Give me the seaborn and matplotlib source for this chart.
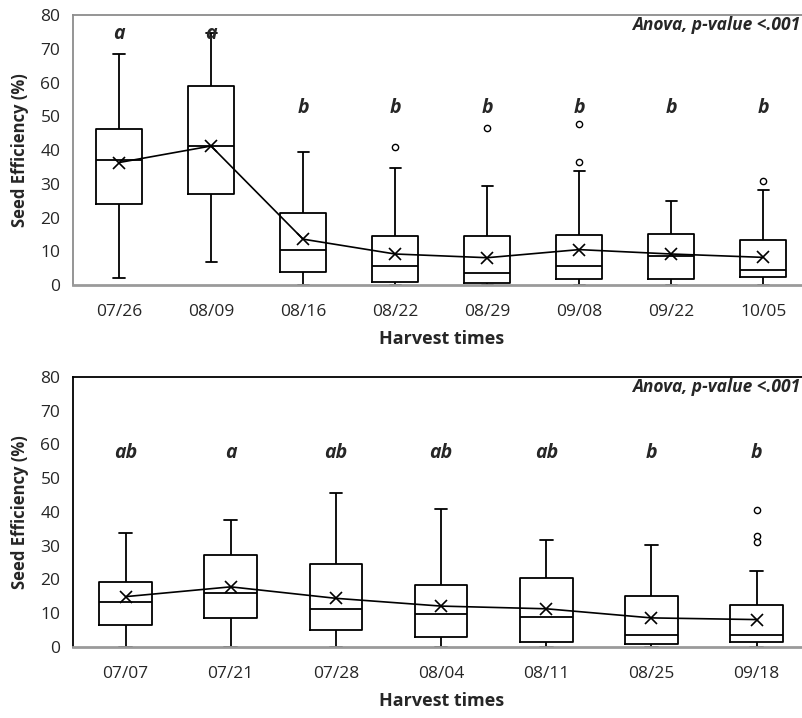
import pandas as pd
import numpy as np
import matplotlib.pyplot as plt
import seaborn as sns

# top panel ---------------------------------------------------------------
top_dates = ['07/26', '08/09', '08/16', '08/22', '08/29', '09/08', '09/22', '10/05']
top_low = [2.0, 6.9, 0.0, 0.0, 0.0, 0.0, 0.0, 0.0]
top_q1 = [24.0, 27.1, 3.8, 1.0, 0.5, 1.9, 1.8, 2.3]
top_med = [37.1, 41.3, 10.3, 5.6, 3.7, 5.7, 8.7, 4.6]
top_q3 = [46.2, 59.1, 21.4, 14.6, 14.5, 14.9, 15.2, 13.4]
top_high = [68.4, 74.7, 39.5, 34.8, 29.4, 33.9, 24.9, 28.3]
top_mean = [36.3, 41.2, 13.6, 9.2, 8.1, 10.5, 9.2, 8.2]
top_out_date = ['08/22', '08/29', '09/08', '09/08', '10/05']
top_out_val = [40.9, 46.4, 47.6, 36.5, 30.8]
top_letters = ['a', 'a', 'b', 'b', 'b', 'b', 'b', 'b']
top_letter_y = [74.5, 74.5, 52.5, 52.5, 52.5, 52.5, 52.5, 52.5]

# bottom panel ------------------------------------------------------------
bot_dates = ['07/07', '07/21', '07/28', '08/04', '08/11', '08/25', '09/18']
bot_low = [0.0, 0.0, 0.0, 0.0, 0.0, 0.0, 0.0]
bot_q1 = [6.4, 8.6, 5.1, 2.9, 1.6, 0.8, 1.4]
bot_med = [13.3, 16.1, 11.3, 9.8, 8.8, 3.6, 3.4]
bot_q3 = [19.3, 27.2, 24.6, 18.4, 20.4, 15.1, 12.3]
bot_high = [33.7, 37.7, 45.6, 41.0, 31.8, 30.2, 22.5]
bot_mean = [14.9, 17.8, 14.4, 12.1, 11.3, 8.6, 8.1]
bot_out_date = ['09/18', '09/18', '09/18']
bot_out_val = [40.7, 32.8, 31.2]
bot_letters = ['ab', 'a', 'ab', 'ab', 'ab', 'b', 'b']
bot_letter_y = [57.5, 57.5, 57.5, 57.5, 57.5, 57.5, 57.5]

sns.set_style('white')
plt.rcParams['font.family'] = ['Open Sans', 'DejaVu Sans']


def draw_panel(ax, dates, low, q1, med, q3, high, mean, out_date, out_val,
               letters, letter_y, frame_color):
    # five-number rows per date, whiskers reach min / max
    rows = []
    for i, d in enumerate(dates):
        for v in (low[i], q1[i], med[i], q3[i], high[i]):
            rows.append({'date': d, 'value': v})
    box_df = pd.DataFrame(rows)

    sns.boxplot(data=box_df, x='date', y='value', order=dates, whis=(0, 100),
                width=0.5, fill=False, color='black', linewidth=1.3,
                showfliers=False, capwidths=0.12, ax=ax)

    out_df = pd.DataFrame({'date': out_date, 'value': out_val})
    sns.stripplot(data=out_df, x='date', y='value', order=dates, jitter=False,
                  color='white', edgecolor='black', linewidth=1, size=4.5, ax=ax)

    mean_df = pd.DataFrame({'date': dates, 'value': mean})
    sns.pointplot(data=mean_df, x='date', y='value', order=dates, color='black',
                  markers='x', linestyles='-', errorbar=None, linewidth=1.2,
                  markersize=9, markeredgewidth=1.2, ax=ax)

    for i, lab in enumerate(letters):
        ax.text(i, letter_y[i], lab, ha='center', va='center', fontsize=14,
                fontweight='bold', fontstyle='italic')
    # keep the note inside the figure (its right edge at ~800 px)
    ax.text(0.988, 77, 'Anova, p-value <.001', ha='right', va='center',
            fontsize=12.5, fontweight='bold', fontstyle='italic',
            transform=ax.get_yaxis_transform())

    ax.set_xlim(-0.5, len(dates) - 0.5)
    ax.set_ylim(0, 80)
    ax.set_yticks(range(0, 81, 10))
    ax.set_xlabel('Harvest times', fontsize=13, fontweight='bold', labelpad=7)
    ax.set_ylabel('Seed Efficiency (%)', fontsize=12, fontweight='bold', labelpad=8)
    ax.tick_params(axis='both', length=0, labelsize=12.5, pad=9)
    ax.tick_params(axis='x', pad=14)
    for side in ['left', 'top', 'right']:
        ax.spines[side].set_color(frame_color)
        ax.spines[side].set_linewidth(1.3)
    ax.spines['bottom'].set_color('#9a9a9a')
    ax.spines['bottom'].set_linewidth(2)


fig = plt.figure(figsize=(8.02, 7.18), dpi=100)
ax_top = fig.add_axes([0.091, 0.603, 0.918, 0.376])
ax_bot = fig.add_axes([0.091, 0.099, 0.918, 0.376])

draw_panel(ax_top, top_dates, top_low, top_q1, top_med, top_q3, top_high, top_mean,
           top_out_date, top_out_val, top_letters, top_letter_y, '#8c8c8c')
draw_panel(ax_bot, bot_dates, bot_low, bot_q1, bot_med, bot_q3, bot_high, bot_mean,
           bot_out_date, bot_out_val, bot_letters, bot_letter_y, 'black')

plt.savefig('out.png', dpi=100)
